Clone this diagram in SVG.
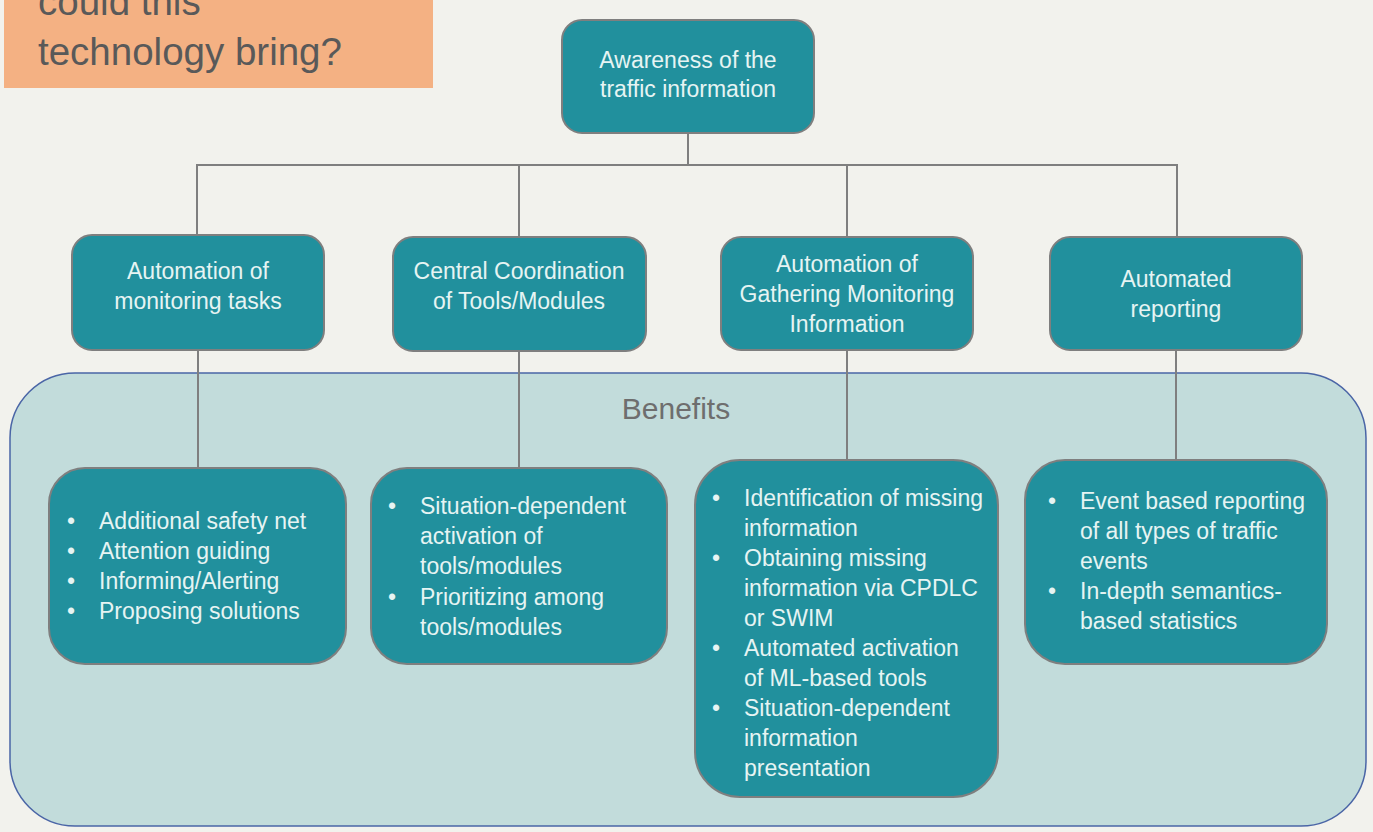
<svg xmlns="http://www.w3.org/2000/svg" width="1373" height="832" viewBox="0 0 1373 832">
<style>
.node{fill:#21909d;stroke:#7f7f7f;stroke-width:2}
.t{font-family:"Liberation Sans",Arial,sans-serif;font-size:23px;fill:#e6f4f3}
.c{text-anchor:middle}
.conn{stroke:#7f7f7f;stroke-width:2;fill:none}
</style>
<rect width="1373" height="832" fill="#f2f2ed"/>
<g id="title">
<rect x="4" y="-2" width="429" height="90" fill="#f4b183"/>
<text x="38" y="15" font-family="'Liberation Sans',Arial,sans-serif" font-size="38.5" fill="#595959">could this</text>
<text x="38" y="65" font-family="'Liberation Sans',Arial,sans-serif" font-size="38.5" fill="#595959">technology bring?</text>
</g>
<g id="benefits">
<rect x="10" y="373" width="1356" height="453" rx="65" fill="#c2dcdb" stroke="#4a65a6" stroke-width="1.5"/>
<text x="676" y="419" text-anchor="middle" font-family="'Liberation Sans',Arial,sans-serif" font-size="30" fill="#6e6e6e">Benefits</text>
</g>
<g id="connectors">
<path class="conn" d="M688 133V165M197 236V165H1177V236M519 165V237M847 165V237"/>
<path class="conn" d="M198 350V468M519 351V468M847 350V460M1176 350V460"/>
</g>
<g id="root">
<rect class="node" x="562" y="20" width="252" height="113" rx="20"/>
<text class="t c" x="688" y="68">Awareness of the</text>
<text class="t c" x="688" y="97">traffic information</text>
</g>
<g id="n1">
<rect class="node" x="72" y="235" width="252" height="115" rx="20"/>
<text class="t c" x="198" y="279">Automation of</text>
<text class="t c" x="198" y="309">monitoring tasks</text>
</g>
<g id="n2">
<rect class="node" x="393" y="237" width="253" height="114" rx="20"/>
<text class="t c" x="519" y="279">Central Coordination</text>
<text class="t c" x="519" y="309">of Tools/Modules</text>
</g>
<g id="n3">
<rect class="node" x="721" y="237" width="252" height="113" rx="20"/>
<text class="t c" x="847" y="272">Automation of</text>
<text class="t c" x="847" y="302">Gathering Monitoring</text>
<text class="t c" x="847" y="332">Information</text>
</g>
<g id="n4">
<rect class="node" x="1050" y="237" width="252" height="113" rx="20"/>
<text class="t c" x="1176" y="287">Automated</text>
<text class="t c" x="1176" y="317">reporting</text>
</g>
<g id="b1">
<rect class="node" x="49" y="468" width="297" height="196" rx="36"/>
<text class="t" x="67" y="529">•</text><text class="t" x="99" y="529">Additional safety net</text>
<text class="t" x="67" y="559">•</text><text class="t" x="99" y="559">Attention guiding</text>
<text class="t" x="67" y="589">•</text><text class="t" x="99" y="589">Informing/Alerting</text>
<text class="t" x="67" y="619">•</text><text class="t" x="99" y="619">Proposing solutions</text>
</g>
<g id="b2">
<rect class="node" x="371" y="468" width="296" height="196" rx="36"/>
<text class="t" x="388" y="514">•</text><text class="t" x="420" y="514">Situation-dependent</text>
<text class="t" x="420" y="544">activation of</text>
<text class="t" x="420" y="574">tools/modules</text>
<text class="t" x="388" y="605">•</text><text class="t" x="420" y="605">Prioritizing among</text>
<text class="t" x="420" y="635">tools/modules</text>
</g>
<g id="b3">
<rect class="node" x="695" y="460" width="303" height="337" rx="45"/>
<text class="t" x="712" y="506">•</text><text class="t" x="744" y="506">Identification of missing</text>
<text class="t" x="744" y="536">information</text>
<text class="t" x="712" y="566">•</text><text class="t" x="744" y="566">Obtaining missing</text>
<text class="t" x="744" y="596">information via CPDLC</text>
<text class="t" x="744" y="626">or SWIM</text>
<text class="t" x="712" y="656">•</text><text class="t" x="744" y="656">Automated activation</text>
<text class="t" x="744" y="686">of ML-based tools</text>
<text class="t" x="712" y="716">•</text><text class="t" x="744" y="716">Situation-dependent</text>
<text class="t" x="744" y="746">information</text>
<text class="t" x="744" y="776">presentation</text>
</g>
<g id="b4">
<rect class="node" x="1025" y="460" width="302" height="204" rx="40"/>
<text class="t" x="1048" y="509">•</text><text class="t" x="1080" y="509">Event based reporting</text>
<text class="t" x="1080" y="539">of all types of traffic</text>
<text class="t" x="1080" y="569">events</text>
<text class="t" x="1048" y="599">•</text><text class="t" x="1080" y="599">In-depth semantics-</text>
<text class="t" x="1080" y="629">based statistics</text>
</g>
</svg>
